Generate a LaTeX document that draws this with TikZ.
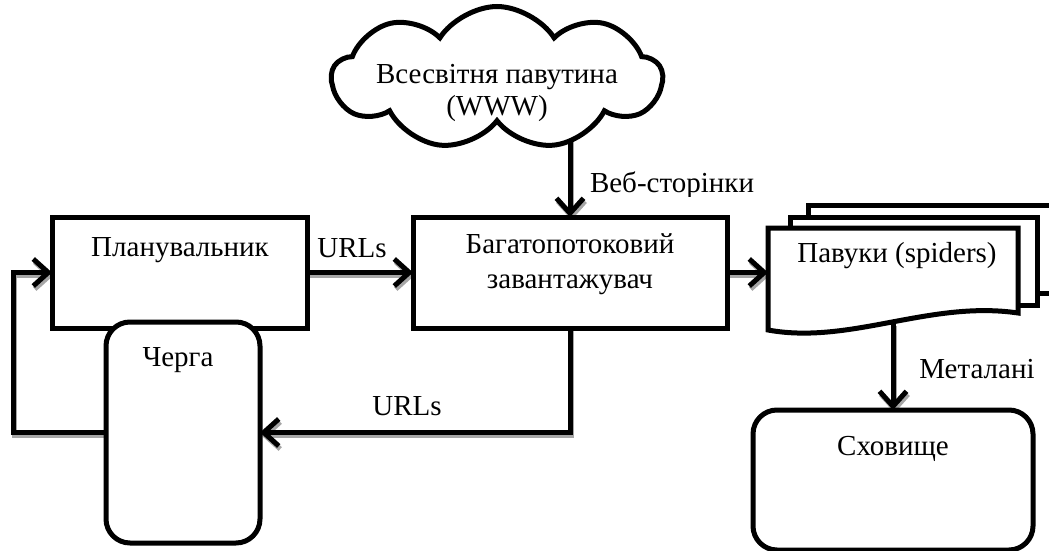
\documentclass[tikz,border=0pt]{standalone}
\usepackage{fontspec}
\setmainfont{Liberation Serif}
\usetikzlibrary{shapes.symbols,arrows.meta}
\pgfdeclarelayer{back}
\pgfsetlayers{back,main}

\begin{document}
\begin{tikzpicture}[x=1pt,y=-1pt,
  line width=5pt,
  every node/.style={inner sep=0pt, outer sep=0pt},
  txt/.style={font=\fontsize{29}{33}\selectfont, anchor=base},
  box/.style={draw, fill=white, rectangle},
  rbox/.style={draw, fill=white, rectangle, rounded corners=24pt},
  conn/.style={line width=5pt, -{Straight Barb[length=15pt,width=27pt]}},
  shade/.style={draw=black!35, transform canvas={shift={(1.5pt,-3pt)}}},
]
\useasboundingbox (0,0) rectangle (1049,551);
\clip (0,0) rectangle (1049,551);

% ---- the web cloud ----
\node[cloud, draw, fill=white, cloud puffs=9, cloud puff arc=115, aspect=2.3,
      minimum width=330pt, minimum height=143pt] (www) at (497,78) {};
\node[txt] (wwwa) at (497,84) {Всесвітня павутина};
\node[txt] (wwwb) at (497,115) {(WWW)};

% ---- main blocks ----
\node[box, minimum width=255pt, minimum height=111pt] (plan) at (179.5,272.5) {};
\node[txt] (plantxt) at (180,256) {Планувальник};

\node[box, minimum width=314pt, minimum height=111pt] (load) at (570,272.5) {};
\node[txt] (loadtxta) at (570,253) {Багатопотоковий};
\node[txt] (loadtxtb) at (570,288) {завантажувач};

\node[rbox, minimum width=154pt, minimum height=221pt] (queue) at (183,432.5) {};
\node[txt] (queuetxt) at (178,366) {Черга};

\node[rbox, minimum width=280pt, minimum height=140pt] (store) at (893,480) {};
\node[txt] (storetxt) at (893,455) {Сховище};

% ---- stacked documents of the spiders ----
\draw (808,217) -- (808,205) -- (1062,205) -- (1062,293) -- (1037,293);
\draw (790,228) -- (790,217) -- (1037,217) -- (1037,305) -- (1018,305);
\node[rectangle, minimum width=250pt, minimum height=102pt] (spiders) at (893,279) {};
\draw[fill=white] (spiders.north west) -- (spiders.north east) -- (1018,313)
  .. controls (930,300) and (850,345) .. (768,330) -- cycle;
\node[txt] (spiderstxt) at (897,262) {Павуки (spiders)};
\coordinate (spidersbot) at (893,323);

% ---- connectors (grey shadow first, then the black line), behind the shapes ----
\begin{pgfonlayer}{back}
\foreach \s in {shade,black}{
  \draw[conn,\s] (load.north |- www.center) -- (load.north);
  \draw[conn,\s] (plan.east) -- (load.west);
  \draw[conn,\s] (load.east) -- (load.east -| spiders.west);
  \draw[conn,\s] (load.south) |- (queue.east);
  \draw[conn,\s] (queue.west) -- ++(-93,0) |- (plan.west);
  \draw[conn,\s] (spidersbot) -- (store.north);
}
\end{pgfonlayer}

% ---- connector labels ----
\begin{scope}
  \clip (580,150) rectangle (780,196);
  \node[txt] (weblbl) at (672,192) {Веб-сторінки};
\end{scope}
\node[txt] (urlsa) at (352,257) {URLs};
\node[txt] (urlsb) at (407,415) {URLs};
\node[txt] (metalbl) at (977,378) {Металані};
\end{tikzpicture}
\end{document}
